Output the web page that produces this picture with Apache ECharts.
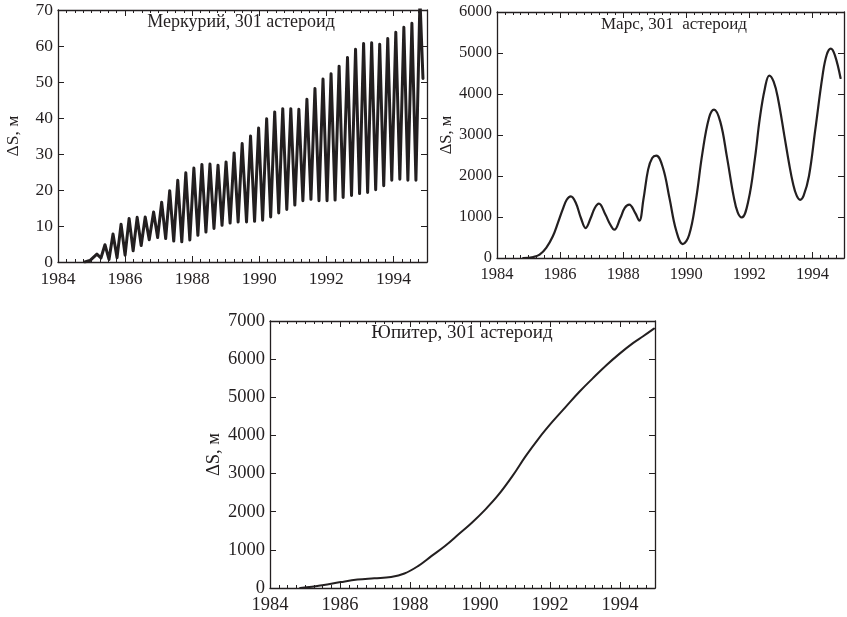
<!DOCTYPE html>
<html>
<head>
<meta charset="utf-8">
<script src="https://cdn.jsdelivr.net/npm/echarts@6/dist/echarts.min.js"></script>
<style>html,body{margin:0;padding:0;background:#fff}#c{width:847px;height:617px}</style>
</head>
<body>
<div id="c"></div>
<script>
// ---------- DATA ----------
const xTickYears = [1984, 1986, 1988, 1990, 1992, 1994];
const yTicksMercury = [0, 10, 20, 30, 40, 50, 60, 70];
const yTicksMars = [0, 1000, 2000, 3000, 4000, 5000, 6000];
const yTicksJupiter = [0, 1000, 2000, 3000, 4000, 5000, 6000, 7000];

const titleMercury = 'Меркурий, 301 астероид';
const titleMars = 'Марс, 301  астероид';
const titleJupiter = 'Юпитер, 301 астероид';
const yName = 'ΔS, м';

// Mercury: alternating peaks and troughs
const mercuryYears = [
  1984.80, 1984.95, 1985.16, 1985.28, 1985.40, 1985.52, 1985.64, 1985.76, 1985.88, 1986.00,
  1986.12, 1986.24, 1986.36, 1986.48, 1986.60, 1986.72, 1986.85, 1986.97, 1987.09, 1987.21,
  1987.33, 1987.45, 1987.57, 1987.69, 1987.81, 1987.93, 1988.05, 1988.17, 1988.29, 1988.41,
  1988.53, 1988.65, 1988.77, 1988.89, 1989.01, 1989.13, 1989.25, 1989.37, 1989.49, 1989.62,
  1989.74, 1989.86, 1989.98, 1990.10, 1990.22, 1990.34, 1990.46, 1990.58, 1990.70, 1990.82,
  1990.94, 1991.06, 1991.18, 1991.30, 1991.42, 1991.54, 1991.66, 1991.78, 1991.90, 1992.02,
  1992.14, 1992.26, 1992.38, 1992.50, 1992.63, 1992.75, 1992.87, 1992.99, 1993.11, 1993.23,
  1993.35, 1993.47, 1993.59, 1993.71, 1993.83, 1993.95, 1994.07, 1994.19, 1994.31, 1994.43,
  1994.55, 1994.67, 1994.79, 1994.88
];
const mercuryValues = [
  0, 0.4, 2.2, 1.1, 4.8, 0.7, 7.8, 1.2, 10.5, 1.9,
  12.1, 3.1, 12.4, 4.6, 12.5, 6.2, 13.9, 6.8, 16.6, 6.5,
  19.8, 5.8, 22.7, 5.6, 24.8, 6.1, 26.1, 7.4, 27.1, 8.3,
  27.2, 9.3, 26.9, 10.2, 27.8, 10.8, 30.3, 11.1, 32.9, 11.1,
  35.0, 11.3, 37.2, 11.6, 39.8, 12.5, 41.7, 13.6, 42.6, 14.6,
  42.6, 15.8, 42.4, 17.0, 45.2, 17.4, 48.2, 17.0, 50.8, 17.0,
  52.3, 17.2, 54.4, 17.9, 56.8, 18.5, 59.1, 19.0, 60.7, 19.3,
  60.9, 20.1, 60.5, 21.2, 62.1, 22.7, 63.8, 23.0, 65.2, 22.7,
  66.3, 22.7, 73.0, 51.0
];

const marsYears = [
  1984.83, 1985.15, 1985.35, 1985.56, 1985.77, 1985.93, 1986.08, 1986.21, 1986.34, 1986.50,
  1986.66, 1986.81, 1986.97, 1987.10, 1987.23, 1987.44, 1987.58, 1987.72, 1987.91, 1988.05,
  1988.19, 1988.38, 1988.51, 1988.64, 1988.79, 1988.92, 1989.05, 1989.26, 1989.47, 1989.68,
  1989.89, 1990.09, 1990.30, 1990.51, 1990.72, 1990.88, 1991.08, 1991.29, 1991.50, 1991.63,
  1991.76, 1991.97, 1992.18, 1992.33, 1992.49, 1992.63, 1992.77, 1992.91, 1993.11, 1993.26,
  1993.38, 1993.50, 1993.61, 1993.72, 1993.89, 1994.09, 1994.32, 1994.45, 1994.58, 1994.71,
  1994.89
];
const marsValues = [
  0, 25, 80, 245, 530, 855, 1180, 1420, 1505, 1340,
  975, 730, 975, 1220, 1325, 1055, 830, 690, 975, 1220,
  1300, 1100, 910, 1420, 2155, 2440, 2495, 2200, 1450, 670,
  340, 560, 1380, 2550, 3415, 3620, 3320, 2460, 1510, 1115,
  990, 1400, 2450, 3400, 4130, 4450, 4300, 3880, 2980, 2300,
  1830, 1520, 1420, 1520, 2000, 3130, 4450, 4950, 5105, 4950,
  4390
];

const jupiterYears = [
  1984.86, 1985.20, 1985.54, 1986.02, 1986.50, 1986.98, 1987.46, 1987.84, 1988.23, 1988.61,
  1989.00, 1989.38, 1989.76, 1990.15, 1990.53, 1990.92, 1991.30, 1991.68, 1992.07, 1992.45,
  1992.84, 1993.22, 1993.61, 1993.99, 1994.37, 1994.66, 1994.97
];
const jupiterValues = [
  0, 30, 80, 155, 220, 255, 290, 380, 575, 835,
  1100, 1400, 1705, 2055, 2445, 2925, 3450, 3925, 4360, 4750,
  5145, 5495, 5840, 6145, 6420, 6600, 6800
];

// ---------- STYLE / LAYOUT ----------
const INK = '#231f20';
const FONT = '"Liberation Serif", "DejaVu Serif", serif';
const grids = [
  {left: 58, top: 10, width: 369, height: 252},   // Mercury
  {left: 497, top: 12, width: 352, height: 246},  // Mars
  {left: 270, top: 321, width: 385, height: 267}  // Jupiter
];
const fontSizes = [17.5, 16.5, 18.5];
const titleSizes = [18, 17, 19];
const nameGaps = [36, 37, 39];
const lineWidths = [3.0, 2.2, 2.0];

function pairs(xs, ys) { return xs.map((x, i) => [x, ys[i]]); }
function yearLabel(v) {
  const r = Math.round(v);
  return (Math.abs(v - r) < 1e-6 && xTickYears.indexOf(r) >= 0) ? String(r) : '';
}

const xAxes = [], yAxes = [];
const yTickSets = [yTicksMercury, yTicksMars, yTicksJupiter];
grids.forEach((g, i) => {
  const yt = yTickSets[i];
  const ymin = yt[0], ymax = yt[yt.length - 1], yint = yt[1] - yt[0];
  const fs = fontSizes[i];
  ['bottom', 'top'].forEach(pos => {
    xAxes.push({
      type: 'value', gridIndex: i, position: pos, min: 1984, max: 1995, interval: 2,
      axisLine: {show: true, onZero: false, lineStyle: {color: INK, width: 1.3}},
      axisTick: {show: true, inside: true, length: 6, lineStyle: {color: INK, width: 1}},
      minorTick: {show: true, splitNumber: 8, length: 3, lineStyle: {color: INK, width: 1}},
      splitLine: {show: false}, minorSplitLine: {show: false},
      axisLabel: {show: pos === 'bottom', formatter: yearLabel, color: INK, fontFamily: FONT, fontSize: fs, margin: 8},
      z: 5
    });
  });
  ['left', 'right'].forEach(pos => {
    yAxes.push({
      type: 'value', gridIndex: i, position: pos, min: ymin, max: ymax, interval: yint,
      axisLine: {show: true, onZero: false, lineStyle: {color: INK, width: 1.3}},
      axisTick: {show: true, inside: true, length: 6, lineStyle: {color: INK, width: 1}},
      splitLine: {show: false},
      axisLabel: {show: pos === 'left', formatter: v => String(v), color: INK, fontFamily: FONT, fontSize: fs, margin: 5},
      name: pos === 'left' ? yName : '',
      nameLocation: 'middle', nameRotate: 90, nameGap: nameGaps[i],
      nameTextStyle: {color: INK, fontFamily: FONT, fontSize: fs},
      z: 5
    });
  });
});

const seriesData = [
  pairs(mercuryYears, mercuryValues),
  pairs(marsYears, marsValues),
  pairs(jupiterYears, jupiterValues)
];
const series = seriesData.map((d, i) => ({
  type: 'line', xAxisIndex: i * 2, yAxisIndex: i * 2, data: d,
  showSymbol: false, symbol: 'none', smooth: i === 0 ? false : 0.4,
  clip: true, animation: false,
  lineStyle: {color: INK, width: lineWidths[i], join: 'round', cap: 'round'}
}));

const titles = [
  {text: titleMercury, x: 241, y: 22},
  {text: titleMars, x: 674, y: 25},
  {text: titleJupiter, x: 462, y: 333}
];

const chart = echarts.init(document.getElementById('c'), null, {renderer: 'canvas'});
chart.setOption({
  backgroundColor: '#ffffff',
  animation: false,
  grid: grids.map(g => Object.assign({containLabel: false}, g)),
  xAxis: xAxes,
  yAxis: yAxes,
  series: series,
  graphic: titles.map((t, i) => ({
    type: 'text', x: t.x, y: t.y, z: 10,
    style: {text: t.text, fill: INK, font: titleSizes[i] + 'px ' + FONT,
            align: 'center', verticalAlign: 'middle', textAlign: 'center', textVerticalAlign: 'middle'}
  }))
});
</script>
</body>
</html>
